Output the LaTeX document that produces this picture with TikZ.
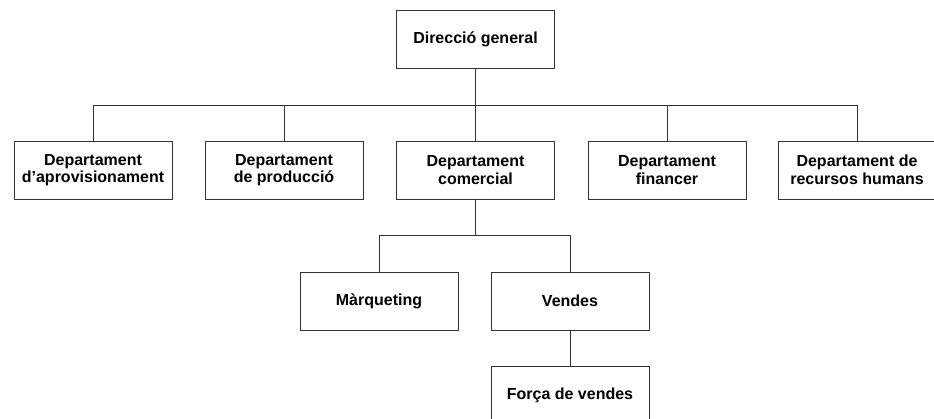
\documentclass[tikz,border=0pt]{standalone}
\usepackage{fontspec}
\setmainfont{Liberation Sans}
\begin{document}
\begin{tikzpicture}[x=1pt,y=-1pt,
    box/.style={draw=black!80,line width=0.9pt,fill=white,minimum width=158pt,
      minimum height=58pt,align=center,inner sep=2pt,
      font=\fontsize{16}{17.5}\selectfont\bfseries},
    link/.style={draw=black!80,line width=0.9pt}]
  \useasboundingbox (0,0) rectangle (934,418);

  \node[box] (dg) at (475.5,39.5) {Direcció general};

  \node[box] (aprov) at (93,170) {Departament\\d’aprovisionament};
  \node[box] (prod) at (284,170) {Departament\\de producció};
  \node[box] (com) at (475.5,170) {Departament\\comercial};
  \node[box] (fin) at (667,170) {Departament\\financer};
  \node[box] (rh) at (857,170) {Departament de\\recursos humans};

  \node[box] (mark) at (379,301) {Màrqueting};
  \node[box] (vend) at (570,301) {Vendes};
  \node[box] (forca) at (570,395) {Força de vendes};

  \coordinate (bus1) at (475.5,105);
  \coordinate (bus2) at (475.5,235);

  \draw[link] (dg.south) -- (bus1);
  \foreach \d in {aprov,prod,com,fin,rh} {
    \draw[link] (bus1) -| (\d.north);
  }
  \draw[link] (com.south) -- (bus2);
  \foreach \d in {mark,vend} {
    \draw[link] (bus2) -| (\d.north);
  }
  \draw[link] (vend.south) -- (forca.north);
\end{tikzpicture}
\end{document}
